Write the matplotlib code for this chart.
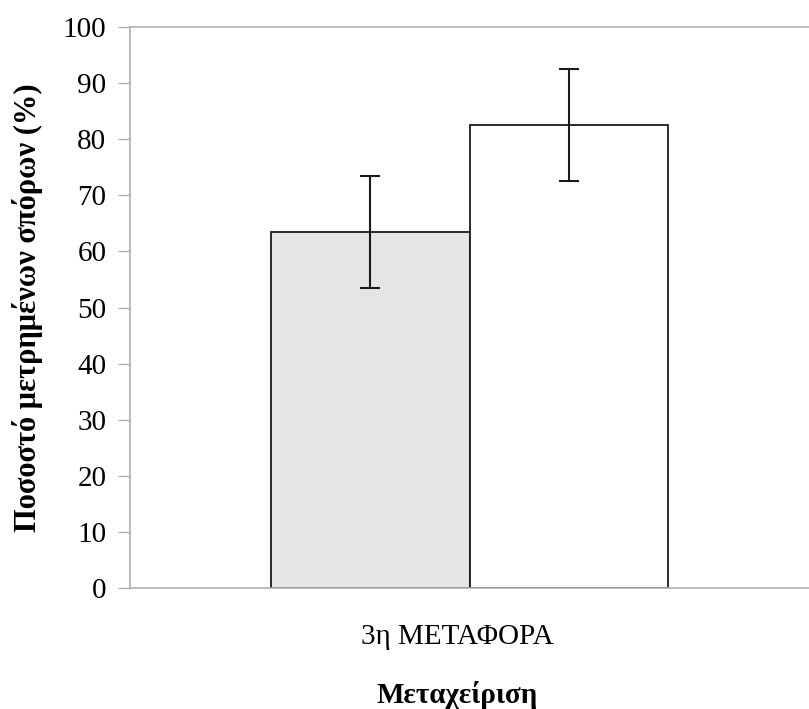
import matplotlib
matplotlib.use("Agg")
import matplotlib.pyplot as plt
import matplotlib.transforms as mtransforms

categories = ["3η ΜΕΤΑΦΟΡΑ"]
series_names = ["A", "B"]
values = [63.5, 82.5]
errors = [10.0, 10.0]
yticks = [0, 10, 20, 30, 40, 50, 60, 70, 80, 90, 100]

plt.rcParams['font.family'] = ['Liberation Serif', 'DejaVu Serif']

fig = plt.figure(figsize=(8.09, 7.09), dpi=100)
ax = fig.add_axes([130/809, 121/709, 679/809, 561/709])

width = 0.5
offsets = [-0.25, 0.25]
colors = ["#e4e6e6", "#ffffff"]
for off, v, e, c in zip(offsets, values, errors, colors):
    ax.bar(off, v, width=width, color=c, edgecolor="#1a1a1a", linewidth=1.3)
    ax.errorbar(off, v, yerr=e, fmt="none", ecolor="#1a1a1a", elinewidth=1.5,
                capsize=7, capthick=1.5)

ax.set_xlim(-0.857, 0.857)
ax.set_ylim(0, 100)
ax.set_yticks(yticks)
ax.set_xticks([0])
ax.set_xticklabels(categories, fontsize=21)
ax.tick_params(axis='y', labelsize=21, length=9, width=1, color="#b0b0b0",
               direction='out', pad=8)
ax.tick_params(axis='x', length=0, pad=26)

shift = mtransforms.ScaledTranslation(-12/100, 0, fig.dpi_scale_trans)
for lab in ax.get_xticklabels():
    lab.set_transform(lab.get_transform() + shift)

for s in ['left', 'bottom', 'top']:
    ax.spines[s].set_color("#b0b0b0")
    ax.spines[s].set_linewidth(1.2)
ax.spines['right'].set_visible(False)

ax.set_ylabel("Ποσοστό μετρημένων σπόρων (%)", fontsize=22, fontweight='bold',
              labelpad=14)
ax.set_xlabel("Μεταχείριση", fontsize=21, fontweight='bold')
ax.xaxis.set_label_coords(0.5 - 12/679, -93/561)

fig.savefig("out.png", dpi=100)
